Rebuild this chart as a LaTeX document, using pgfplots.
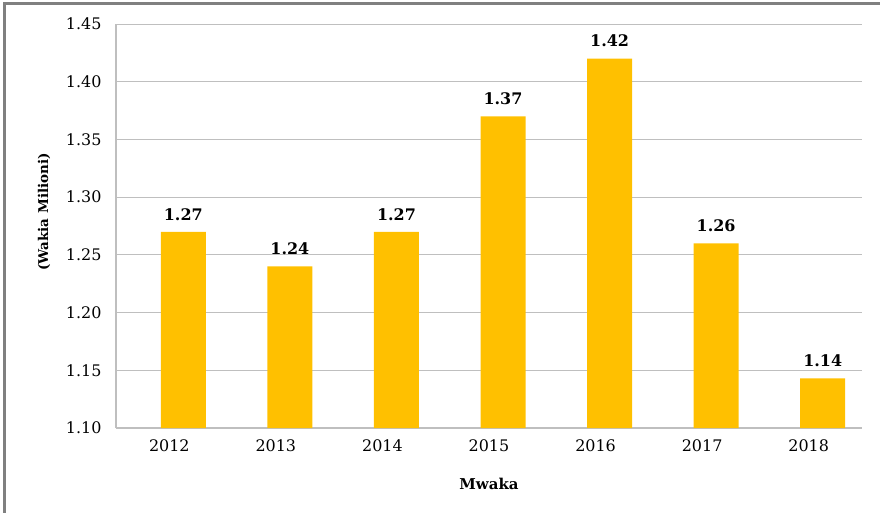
\documentclass[border=0pt]{standalone}
\usepackage{fontspec}
\setmainfont{DejaVu Serif}
\usepackage{pgfplots}
\pgfplotsset{compat=1.18}
\definecolor{barcol}{HTML}{FFC000}
\definecolor{gridcol}{HTML}{BFBFBF}
\definecolor{framecol}{HTML}{808080}
\begin{document}
\begin{tikzpicture}
\useasboundingbox (-116bp,-85bp) rectangle (764bp,428bp);
\draw[framecol, line width=2.5bp] (-111.3bp,-95bp) -- (-111.3bp,424.5bp) -- (775bp,424.5bp);
\begin{axis}[
    width=746bp, height=404bp, scale only axis,
    ybar, bar width=45bp, bar shift=14bp,
    xmin=-0.5, xmax=6.5,
    ymin=1.10, ymax=1.45,
    xtick=data,
    xticklabels={2012,2013,2014,2015,2016,2017,2018},
    ytick={1.10,1.15,1.20,1.25,1.30,1.35,1.40,1.45},
    ymajorgrids,
    major grid style={gridcol, line width=1bp},
    axis x line*=bottom, axis y line*=left,
    axis line style={gridcol, line width=1.2bp},
    major tick length=0pt,
    tick label style={font=\fontsize{16}{18}\selectfont},
    yticklabel style={xshift=-11bp, /pgf/number format/.cd, fixed, fixed zerofill, precision=2, assume math mode=true},
    xticklabel style={yshift=-8bp},
    every axis y label/.style={at={(axis description cs:-0.0965,0.535)}, rotate=90, anchor=center},
    every axis x label/.style={at={(axis description cs:0.5,-0.1386)}, anchor=center},
    ylabel style={font=\bfseries\fontsize{13.5}{15}\selectfont},
    xlabel style={font=\bfseries\fontsize{15}{17}\selectfont},
    ylabel={(Wakia Milioni)},
    xlabel={Mwaka},
    nodes near coords,
    nodes near coords style={font=\bfseries\fontsize{16}{18}\selectfont, anchor=south, yshift=8bp,
        /pgf/number format/.cd, fixed, fixed zerofill, precision=2, assume math mode=true},
]
\addplot[fill=barcol, draw=none] coordinates {
    (0,1.27)
    (1,1.24)
    (2,1.27)
    (3,1.37)
    (4,1.42)
    (5,1.26)
    (6,1.143)
};
\end{axis}
\end{tikzpicture}
\end{document}
